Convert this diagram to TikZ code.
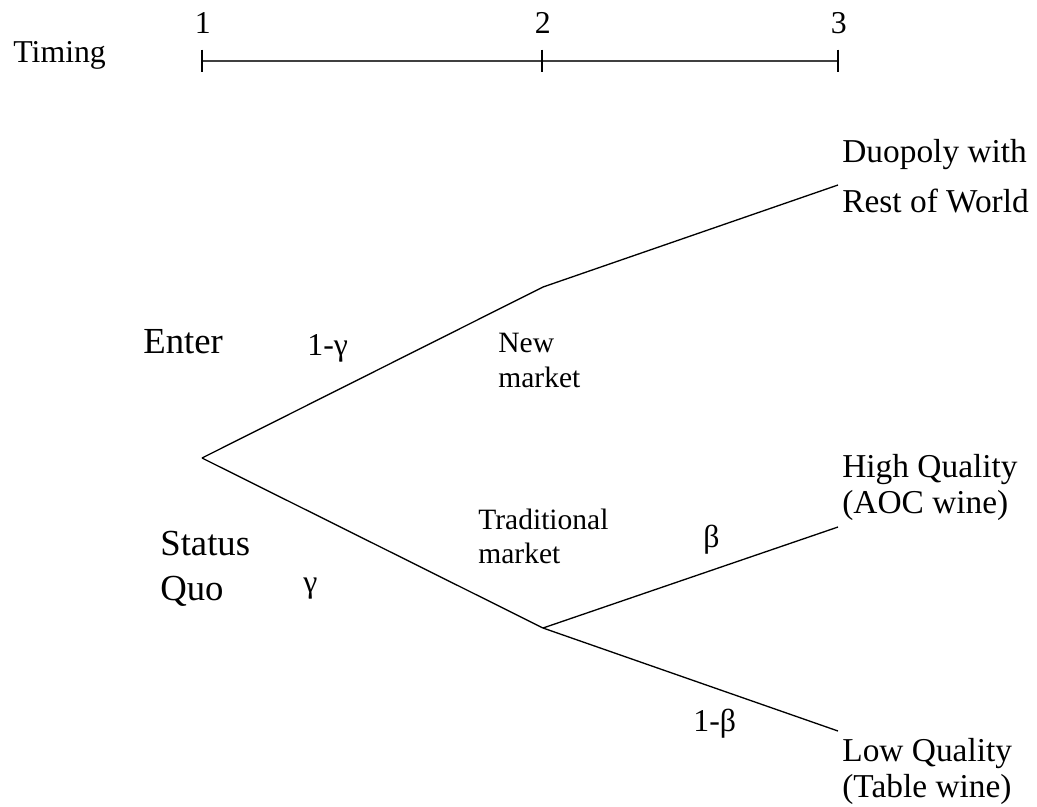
\documentclass[tikz,border=0pt]{standalone}
\usepackage{fontspec}
\setmainfont{Liberation Serif}
\usetikzlibrary{positioning}
\tikzset{>=latex}
\tikzstyle{branch} = [-, line width=0.75pt]
\tikzstyle{axis} = [-, line width=1.1pt, draw=black!75]
\tikzstyle{tick} = [-, line width=0.6pt]
\tikzstyle{lab} = [inner sep=0pt, anchor=base west, align=left]
\newcommand{\fbig}{\fontsize{20.9}{25.5}\selectfont}
\newcommand{\fmid}{\fontsize{18.1}{21}\selectfont}
\newcommand{\fend}{\fontsize{19}{20.4}\selectfont}
\newcommand{\fsml}{\fontsize{16.8}{19.6}\selectfont}

\begin{document}
\begin{tikzpicture}[x=0.02cm, y=-0.02cm]
\useasboundingbox (0,0) rectangle (1037,806);
% timing axis
\coordinate (t1) at (202,61);
\coordinate (t2) at (542,61);
\coordinate (t3) at (838,61);
\node [lab, font=\fmid] (tim) at (13,62) {Timing};
\draw [axis] (t1) -- (t3);
\foreach \p/\n in {t1/1, t2/2, t3/3} {
  \draw [tick] ([yshift=6.5pt]\p) -- ([yshift=-6.5pt]\p);
  \node [inner sep=0pt, anchor=base, font=\fmid] (l\p) at ([xshift=0.5pt, yshift=15.9pt]\p) {\n};
}
% tree
\coordinate (n0) at (202,458);
\coordinate (n1) at (543,287);
\coordinate (n2) at (543,628);
\coordinate (e1) at (838,185);
\coordinate (e2) at (838,527);
\coordinate (e3) at (838,731);
\draw [branch] (n0) -- (n1) -- (e1);
\draw [branch] (n0) -- (n2) -- (e2);
\draw [branch] (n2) -- (e3);
% labels (base = last line)
\node [lab, font=\fbig] (enter) at (143,353) {Enter};
\node [lab, font=\fbig] (sq) at (160,600) {Status\\Quo};
\node [lab, font=\fmid] (pg1) at (307,355) {1-γ};
\node [lab, font=\fmid] (pg) at (303,592) {γ};
\node [lab, font=\fsml] (newm) at (498,387) {New\\market};
\node [lab, font=\fsml] (tradm) at (478,563) {Traditional\\[-0.3pt]market};
\node [lab, font=\fmid] (pb) at (703,547) {β};
\node [lab, font=\fmid] (pb1) at (693,731) {1-β};
\node [lab, font=\fend] (duo) at (842,212) {Duopoly with\\[7.9pt]Rest of World};
\node [lab, font=\fend] (hq) at (842,513) {High Quality\\(AOC wine)};
\node [lab, font=\fend] (lq) at (842,797) {Low Quality\\(Table wine)};
\end{tikzpicture}
\end{document}
